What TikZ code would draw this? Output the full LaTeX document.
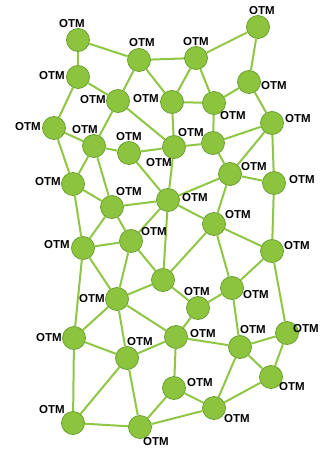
\documentclass[tikz,border=0pt]{standalone}
\usepackage{fontspec}
\setmainfont{Liberation Sans}
\definecolor{otmfill}{HTML}{8CC43E}
\definecolor{otmdraw}{HTML}{6BA133}
\definecolor{linkcol}{HTML}{8FC644}
\begin{document}
\begin{tikzpicture}[x=1pt,y=-1pt,
  otm/.style={circle,fill=otmfill,draw=otmdraw,line width=0.8pt,minimum size=23pt,inner sep=0pt},
  otmtag/.style={font=\fontsize{11.5}{13}\selectfont\bfseries,inner sep=0pt,text=black},
  link/.style={draw=linkcol,line width=2pt}]
\useasboundingbox[fill=white] (0,0) rectangle (321,449);

% stations
\foreach \n/\x/\y in {
  1/78/40, 2/139/60, 3/196/58, 4/258/27, 5/78/77, 6/118/101, 7/172/102,
  8/214/103, 9/249/82, 10/54/128, 11/272/123, 12/94/146, 13/129/153,
  14/174/147, 15/213/143, 16/230/174, 17/274/183, 18/73/184, 19/112/207,
  20/168/200, 21/214/224, 22/131/241, 23/83/248, 24/272/251, 25/163/280,
  26/232/288, 27/117/299, 28/198/308, 29/74/338, 30/127/358, 31/176/337,
  32/240/347, 33/287/333, 34/174/388, 35/271/377, 36/73/423, 37/140/427,
  38/214/408}
  \node[otm] (n\n) at (\x,\y) {};

% links between stations
\foreach \a/\b in {
  1/2, 1/5, 2/3, 2/6, 2/7, 3/4, 3/7, 3/8, 4/9, 5/6, 5/10, 6/12, 6/14,
  7/8, 7/14, 8/9, 8/15, 9/11, 10/12, 10/18, 12/13, 12/18, 12/19, 13/14,
  13/20, 14/15, 14/20, 15/11, 15/16, 11/16, 11/17, 16/17, 16/20, 16/21,
  17/24, 18/19, 18/23, 19/20, 19/22, 19/23, 20/21, 20/22, 20/25, 21/24,
  21/25, 21/26, 22/23, 22/25, 22/27, 23/27, 23/29, 24/26, 24/33, 25/27,
  25/28, 26/28, 26/32, 27/29, 27/30, 27/31, 28/31, 29/30, 29/36, 30/31,
  30/36, 30/37, 31/32, 31/34, 32/33, 32/35, 32/38, 33/35, 34/37, 34/38,
  35/38, 36/37, 37/38}
  \draw[link] (n\a) -- (n\b);

% station tags
\foreach \n/\x/\y in {
  1/72/24, 2/142/43, 3/196/42, 4/262/11, 5/52/76, 6/93/100, 7/146/99,
  8/233/116, 9/274/86, 10/28/127, 11/298/119, 12/85/130, 13/129/137,
  14/159/163, 15/191/133, 16/254/167, 17/302/180, 18/48/182, 19/129/192,
  20/195/198, 21/238/215, 22/154/232, 23/57/245, 24/297/246, 26/256/295,
  27/92/299, 28/197/292, 29/49/338, 30/140/342, 31/203/334, 32/253/330,
  33/306/329, 34/200/383, 35/292/387, 36/52/410, 37/156/442, 38/237/419}
  \node[otmtag] (t\n) at (\x,\y) {OTM};
\end{tikzpicture}
\end{document}
